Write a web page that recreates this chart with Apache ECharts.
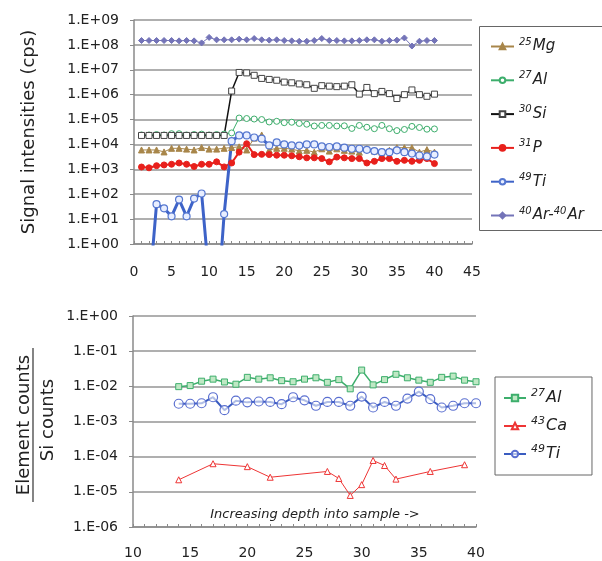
<!DOCTYPE html>
<html>
<head>
<meta charset="utf-8">
<script src="https://cdn.jsdelivr.net/npm/echarts@6/dist/echarts.min.js"></script>
<style>
  html, body { margin: 0; padding: 0; background: #fff; }
  #chart { width: 602px; height: 561px; }
</style>
</head>
<body>
<div id="chart"></div>
<script>
// ---- Upper panel: raw signal intensities (cps) vs. depth step ----
const depth = [1, 2, 3, 4, 5, 6, 7, 8, 9, 10, 11, 12, 13, 14, 15, 16, 17, 18, 19, 20,
               21, 22, 23, 24, 25, 26, 27, 28, 29, 30, 31, 32, 33, 34, 35, 36, 37, 38, 39, 40];

const mg25 = [6e3, 6e3, 6e3, 5e3, 7e3, 7e3, 6.5e3, 6e3, 7.5e3, 6.5e3, 6.5e3, 7e3, 7.5e3, 8e3, 6e3, 1.8e4, 2.4e4, 6e3, 7e3, 7e3,
              6.5e3, 5.5e3, 5.8e3, 4.9e3, 6.7e3, 5.4e3, 6.7e3, 5.8e3, 5.4e3, 4.9e3, 6.7e3, 5.4e3, 4.9e3, 5.8e3, 7.4e3, 7.4e3, 7.4e3, 4.9e3, 6.2e3, 4.9e3];

const al27 = [2.4e4, 2.4e4, 2.5e4, 2.4e4, 2.7e4, 2.7e4, 2.4e4, 2.5e4, 2.6e4, 2.4e4, 2.5e4, 2.6e4, 2.9e4, 1.15e5, 1.1e5, 1.05e5, 1.0e5, 8e4, 8.5e4, 7.5e4,
              7.8e4, 7e4, 6.5e4, 5.5e4, 5.8e4, 5.8e4, 5.5e4, 5.6e4, 4.4e4, 5.8e4, 4.9e4, 4.3e4, 5.8e4, 4.3e4, 3.6e4, 4e4, 5.3e4, 4.8e4, 4.1e4, 4.2e4];

const si30 = [2.3e4, 2.3e4, 2.3e4, 2.3e4, 2.3e4, 2.3e4, 2.3e4, 2.3e4, 2.3e4, 2.3e4, 2.3e4, 2.3e4, 1.4e6, 7.8e6, 7.5e6, 6e6, 4.5e6, 4.1e6, 3.8e6, 3.2e6,
              3e6, 2.7e6, 2.5e6, 1.8e6, 2.3e6, 2.2e6, 2.1e6, 2.2e6, 2.5e6, 1.05e6, 1.95e6, 1.1e6, 1.35e6, 1.1e6, 7e5, 1.0e6, 1.55e6, 1.0e6, 8.6e5, 1.05e6];

const p31 = [1.24e3, 1.15e3, 1.4e3, 1.5e3, 1.6e3, 1.8e3, 1.6e3, 1.3e3, 1.6e3, 1.6e3, 2e3, 1.25e3, 1.8e3, 4.9e3, 1.07e4, 3.9e3, 4e3, 3.9e3, 3.7e3, 3.7e3,
             3.5e3, 3.2e3, 2.9e3, 2.9e3, 2.7e3, 2e3, 3.1e3, 2.9e3, 2.7e3, 2.7e3, 1.8e3, 2.1e3, 2.7e3, 2.7e3, 2.1e3, 2.3e3, 2.1e3, 2.3e3, 2.7e3, 1.7e3];

// values below 1 cps sit under the axis floor and are cut off at the plot edge
const ti49 = [0.01, 0.01, 40, 27, 13, 61, 13, 67, 107, 0.04, 0.001, 16, 1.35e4, 2.3e4, 2.3e4, 1.9e4, 1.7e4, 9.1e3, 1.2e4, 1e4,
              9.1e3, 9e3, 1e4, 1e4, 8.3e3, 7.9e3, 8.3e3, 7.4e3, 6.7e3, 6.7e3, 6.1e3, 5.4e3, 4.9e3, 4.9e3, 5.8e3, 4.9e3, 4.3e3, 3.6e3, 3.3e3, 3.9e3];

const arAr = [1.5e8, 1.5e8, 1.5e8, 1.5e8, 1.5e8, 1.45e8, 1.5e8, 1.45e8, 1.2e8, 2.0e8, 1.6e8, 1.6e8, 1.6e8, 1.7e8, 1.6e8, 1.8e8, 1.6e8, 1.55e8, 1.6e8, 1.5e8,
              1.45e8, 1.4e8, 1.4e8, 1.5e8, 1.8e8, 1.5e8, 1.5e8, 1.45e8, 1.45e8, 1.5e8, 1.6e8, 1.6e8, 1.4e8, 1.5e8, 1.55e8, 1.9e8, 0.9e8, 1.4e8, 1.5e8, 1.5e8];

// ---- Lower panel: element / Si count ratios ----
const depthRatio = [14, 15, 16, 17, 18, 19, 20, 21, 22, 23, 24, 25, 26, 27, 28, 29, 30, 31, 32, 33, 34, 35, 36, 37, 38, 39, 40];

const al27Ratio = [9.8e-3, 1.05e-2, 1.4e-2, 1.6e-2, 1.33e-2, 1.15e-2, 1.8e-2, 1.6e-2, 1.75e-2, 1.45e-2, 1.35e-2, 1.6e-2, 1.75e-2, 1.3e-2,
                   1.55e-2, 8.5e-3, 2.9e-2, 1.1e-2, 1.55e-2, 2.2e-2, 1.75e-2, 1.5e-2, 1.3e-2, 1.8e-2, 1.95e-2, 1.5e-2, 1.35e-2];

const ti49Ratio = [3.2e-3, 3.2e-3, 3.3e-3, 4.9e-3, 2.1e-3, 3.9e-3, 3.5e-3, 3.7e-3, 3.6e-3, 3.1e-3, 4.9e-3, 4e-3, 2.8e-3, 3.6e-3,
                   3.6e-3, 2.8e-3, 5.1e-3, 2.5e-3, 3.6e-3, 2.8e-3, 4.5e-3, 7.1e-3, 4.3e-3, 2.5e-3, 2.8e-3, 3.3e-3, 3.3e-3];

const depthCa = [14, 17, 20, 22, 27, 28, 29, 30, 31, 32, 33, 36, 39];
const ca43Ratio = [2.2e-5, 6.3e-5, 5.2e-5, 2.6e-5, 3.8e-5, 2.4e-5, 7.9e-6, 1.6e-5, 7.8e-5, 5.6e-5, 2.3e-5, 3.8e-5, 5.9e-5];

// ---- Tick labels ----
const topYLabels = ['1.E+00', '1.E+01', '1.E+02', '1.E+03', '1.E+04', '1.E+05', '1.E+06', '1.E+07', '1.E+08', '1.E+09'];
const bottomYLabels = ['1.E-06', '1.E-05', '1.E-04', '1.E-03', '1.E-02', '1.E-01', '1.E+00'];

// legend entries, written with superscript mass numbers
const topNames = ['25Mg', '27Al', '30Si', '31P', '49Ti', '40Ar-40Ar'];
const bottomNames = ['27Al ratio', '43Ca ratio', '49Ti ratio'];
const legendText = {
  '25Mg': '{sup|25}{el|Mg}',
  '27Al': '{sup|27}{el|Al}',
  '30Si': '{sup|30}{el|Si}',
  '31P': '{sup|31}{el|P}',
  '49Ti': '{sup|49}{el|Ti}',
  '40Ar-40Ar': '{sup|40}{el|Ar-}{sup|40}{el|Ar}',
  '27Al ratio': '{sup|27}{el|Al}',
  '43Ca ratio': '{sup|43}{el|Ca}',
  '49Ti ratio': '{sup|49}{el|Ti}'
};

const FONT = 'DejaVu Sans';
const pairs = (xs, ys) => xs.map((x, i) => [x, ys[i]]);
const expOf = v => Math.round(Math.log10(v));

const gridColor = '#959595';
const axisColor = '#8a8a8a';

function richStyle(size, supSize) {
  return {
    el: { fontFamily: FONT, fontStyle: 'italic', fontSize: size, color: '#222', lineHeight: size + 4 },
    sup: { fontFamily: FONT, fontStyle: 'italic', fontSize: supSize, color: '#222', verticalAlign: 'top', lineHeight: size + 4, padding: [0, 1, 0, 0] }
  };
}

function lineSeries(name, data, color, opts) {
  return Object.assign({
    name: name,
    type: 'line',
    xAxisIndex: opts.axis,
    yAxisIndex: opts.axis,
    data: data,
    clip: true,
    symbol: opts.symbol,
    symbolSize: opts.size,
    showAllSymbol: true,
    animation: false,
    lineStyle: { color: color, width: opts.width },
    itemStyle: { color: opts.fill || color, borderColor: color, borderWidth: opts.border || 1 }
  }, opts.extra || {});
}

const chart = echarts.init(document.getElementById('chart'), null, { renderer: 'canvas' });

chart.setOption({
  backgroundColor: '#ffffff',
  animation: false,
  textStyle: { fontFamily: FONT },
  grid: [
    { left: 134, top: 20, width: 338, height: 224 },
    { left: 133, top: 316, width: 343, height: 211 }
  ],
  xAxis: [
    {
      gridIndex: 0, type: 'value', min: 0, max: 45, interval: 5,
      axisLine: { lineStyle: { color: axisColor, width: 1.5 } },
      axisTick: { inside: true, length: 3, lineStyle: { color: axisColor } },
      minorTick: { show: true, splitNumber: 5, length: 3, lineStyle: { color: axisColor } },
      splitLine: { show: false },
      axisLabel: { fontFamily: FONT, fontSize: 14, color: '#222', margin: 21 }
    },
    {
      gridIndex: 1, type: 'value', min: 10, max: 40, interval: 5,
      axisLine: { lineStyle: { color: axisColor, width: 1.5 } },
      axisTick: { inside: true, length: 3, lineStyle: { color: axisColor } },
      minorTick: { show: true, splitNumber: 5, length: 3, lineStyle: { color: axisColor } },
      splitLine: { show: false },
      axisLabel: { fontFamily: FONT, fontSize: 14, color: '#222', margin: 19 }
    }
  ],
  yAxis: [
    {
      gridIndex: 0, type: 'log', logBase: 10, min: 1, max: 1e9, splitNumber: 9,
      name: 'Signal intensities (cps)', nameLocation: 'middle', nameRotate: 90, nameGap: 96,
      nameTextStyle: { fontFamily: FONT, fontSize: 18, color: '#222' },
      axisLine: { show: true, lineStyle: { color: axisColor, width: 1.5 } },
      axisTick: { show: true, length: 4, lineStyle: { color: axisColor } },
      splitLine: { show: true, lineStyle: { color: gridColor, width: 1.5 } },
      axisLabel: { fontFamily: FONT, fontSize: 14, color: '#222', margin: 15,
                   formatter: v => topYLabels[expOf(v)] }
    },
    {
      gridIndex: 1, type: 'log', logBase: 10, min: 1e-6, max: 1, splitNumber: 6,
      axisLine: { show: true, lineStyle: { color: axisColor, width: 1.5 } },
      axisTick: { show: true, length: 4, lineStyle: { color: axisColor } },
      splitLine: { show: true, lineStyle: { color: gridColor, width: 1.5 } },
      axisLabel: { fontFamily: FONT, fontSize: 14, color: '#222', margin: 15,
                   formatter: v => bottomYLabels[expOf(v) + 6] }
    }
  ],
  legend: [
    {
      data: topNames,
      orient: 'vertical', left: 479, top: 26,
      padding: [11, 10, 11, 11], itemGap: 16.8, itemWidth: 23, itemHeight: 7,
      borderWidth: 0, backgroundColor: 'transparent',
      formatter: n => legendText[n],
      textStyle: { rich: richStyle(15, 10) }
    },
    {
      data: bottomNames,
      orient: 'vertical', left: 495, top: 377,
      padding: [11, 25, 13, 8], itemGap: 10, itemWidth: 22, itemHeight: 8,
      borderColor: '#666', borderWidth: 1, backgroundColor: '#fff',
      formatter: n => legendText[n],
      textStyle: { rich: richStyle(16, 11) }
    }
  ],
  graphic: [
    // frame of the upper legend; it runs past the right edge of the canvas
    { type: 'rect', z: 0, shape: { x: 479.5, y: 26.5, width: 160, height: 204 },
      style: { fill: '#fff', stroke: '#666', lineWidth: 1 } },
    { type: 'text', x: 24, y: 425, rotation: Math.PI / 2,
      style: { text: 'Element counts', font: '18px "DejaVu Sans"', fill: '#222', align: 'center', verticalAlign: 'middle' } },
    { type: 'line', shape: { x1: 33, y1: 348, x2: 33, y2: 502 }, style: { stroke: '#333', lineWidth: 1.2 } },
    { type: 'text', x: 48, y: 420, rotation: Math.PI / 2,
      style: { text: 'Si counts', font: '18px "DejaVu Sans"', fill: '#222', align: 'center', verticalAlign: 'middle' } },
    { type: 'text', x: 315, y: 515,
      style: { text: 'Increasing depth into sample ->', font: 'italic 13px "DejaVu Sans"', fill: '#222', align: 'center', verticalAlign: 'middle' } }
  ],
  series: [
    lineSeries('25Mg', pairs(depth, mg25), '#a8864a', { axis: 0, symbol: 'triangle', size: 6, width: 1 }),
    lineSeries('27Al', pairs(depth, al27), '#3dae6c', { axis: 0, symbol: 'circle', size: 6, width: 1, fill: '#ffffff' }),
    lineSeries('30Si', pairs(depth, si30), '#111111', { axis: 0, symbol: 'rect', size: 6, width: 1.5, fill: '#ffffff', extra: { itemStyle: { color: '#fff', borderColor: '#444', borderWidth: 1 } } }),
    lineSeries('31P', pairs(depth, p31), '#e8201c', { axis: 0, symbol: 'circle', size: 6, width: 2 }),
    lineSeries('49Ti', pairs(depth, ti49), '#3e63c8', { axis: 0, symbol: 'circle', size: 7, width: 3, extra: { itemStyle: { color: '#e8eeff', borderColor: '#5577d0', borderWidth: 1.2 } } }),
    lineSeries('40Ar-40Ar', pairs(depth, arAr), '#7474b8', { axis: 0, symbol: 'diamond', size: 6, width: 1 }),

    lineSeries('27Al ratio', pairs(depthRatio, al27Ratio), '#3dae6c', { axis: 1, symbol: 'rect', size: 6, width: 1.5, fill: '#bfe8c4' }),
    lineSeries('43Ca ratio', pairs(depthCa, ca43Ratio), '#ee3535', { axis: 1, symbol: 'triangle', size: 6, width: 1, fill: '#ffffff' }),
    lineSeries('49Ti ratio', pairs(depthRatio, ti49Ratio), '#3a5cc0', { axis: 1, symbol: 'circle', size: 9, width: 2, extra: { itemStyle: { color: 'rgba(255,255,255,0.6)', borderColor: '#5a6fd0', borderWidth: 1.2 } } })
  ]
});
</script>
</body>
</html>
